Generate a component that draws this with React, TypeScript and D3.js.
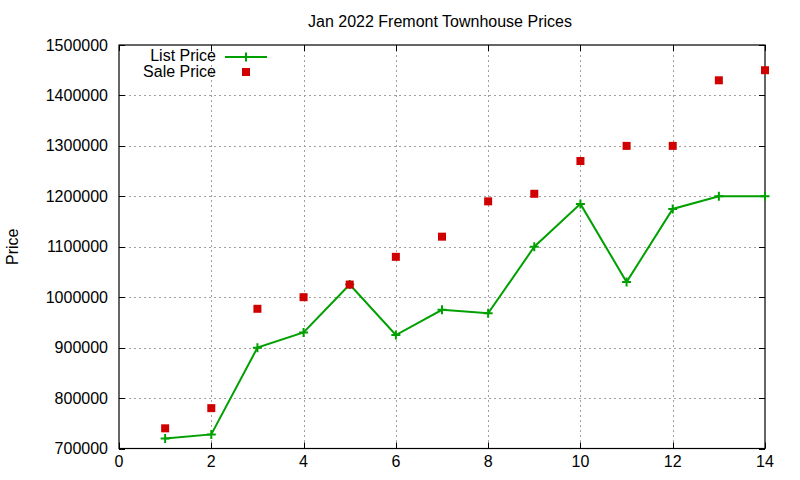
import * as d3 from 'd3'
import { useEffect, useRef } from 'react'

// readings from the reference chart
const days = [1, 2, 3, 4, 5, 6, 7, 8, 9, 10, 11, 12, 13, 14]
const listPrice = [720000, 728000, 900000, 930000, 1025000, 925000, 975000, 968000, 1100000, 1185000, 1030000, 1175000, 1200000, 1200000]
const salePrice = [740000, 780000, 977000, 1000000, 1025000, 1080000, 1120000, 1190000, 1205000, 1270000, 1300000, 1300000, 1430000, 1450000]
const xTicks = [0, 2, 4, 6, 8, 10, 12, 14]
const yTicks = [700000, 800000, 900000, 1000000, 1100000, 1200000, 1300000, 1400000, 1500000]

const W = 800
const H = 480
const FONT = '"Liberation Sans", Arial, sans-serif'

export default function App() {
  const svgRef = useRef(null)

  useEffect(() => {
    document.body.style.margin = '0'
    const svg = d3.select(svgRef.current)
    svg.selectAll('*').remove()

    const left = 119, right = 765, top = 45, bottom = 448.5

    const x = d3.scaleLinear().domain([0, 14]).range([left, right])
    const y = d3.scaleLinear().domain([700000, 1500000]).range([bottom, top])

    svg.append('rect').attr('width', W).attr('height', H).attr('fill', 'white')

    // grid
    const grid = svg.append('g')
      .attr('stroke', '#a0a0a0')
      .attr('stroke-width', 1)
      .attr('stroke-dasharray', '2,3')
    grid.selectAll('.gx')
      .data(xTicks.slice(1, -1))
      .enter()
      .append('line')
      .attr('x1', d => Math.round(x(d)) + 0.5)
      .attr('x2', d => Math.round(x(d)) + 0.5)
      .attr('y1', top)
      .attr('y2', bottom)
    grid.selectAll('.gy')
      .data(yTicks.slice(1, -1))
      .enter()
      .append('line')
      .attr('y1', d => Math.round(y(d)) + 0.5)
      .attr('y2', d => Math.round(y(d)) + 0.5)
      .attr('x1', left)
      .attr('x2', right)

    // tick marks (mirrored, inward)
    const ticks = svg.append('g').attr('stroke', 'black').attr('stroke-width', 1)
    xTicks.forEach(t => {
      const px = Math.round(x(t)) + 0.5
      ticks.append('line').attr('x1', px).attr('x2', px).attr('y1', bottom).attr('y2', bottom - 6)
      ticks.append('line').attr('x1', px).attr('x2', px).attr('y1', top).attr('y2', top + 6)
    })
    yTicks.forEach(t => {
      const py = Math.round(y(t)) + 0.5
      ticks.append('line').attr('x1', left).attr('x2', left + 6).attr('y1', py).attr('y2', py)
      ticks.append('line').attr('x1', right).attr('x2', right - 6).attr('y1', py).attr('y2', py)
    })

    // frame
    svg.append('rect')
      .attr('x', left)
      .attr('y', top)
      .attr('width', right - left)
      .attr('height', bottom - top)
      .attr('fill', 'none')
      .attr('stroke', 'black')
      .attr('stroke-width', 1.2)

    // tick labels
    svg.append('g')
      .selectAll('text')
      .data(xTicks)
      .enter()
      .append('text')
      .attr('x', d => x(d))
      .attr('y', 467)
      .attr('text-anchor', 'middle')
      .style('font-family', FONT)
      .style('font-size', '16px')
      .text(d => d)

    svg.append('g')
      .selectAll('text')
      .data(yTicks)
      .enter()
      .append('text')
      .attr('x', 108)
      .attr('y', d => y(d) + 5.5)
      .attr('text-anchor', 'end')
      .style('font-family', FONT)
      .style('font-size', '16px')
      .text(d => d)

    // title and axis label
    svg.append('text')
      .attr('x', 440)
      .attr('y', 27)
      .attr('text-anchor', 'middle')
      .style('font-family', FONT)
      .style('font-size', '16px')
      .text('Jan 2022 Fremont Townhouse Prices')

    svg.append('text')
      .attr('transform', `translate(18, ${(top + bottom) / 2}) rotate(-90)`)
      .attr('text-anchor', 'middle')
      .style('font-family', FONT)
      .style('font-size', '16px')
      .text('Price')

    const green = '#00a000'
    const red = '#d00000'

    // list price line
    const line = d3.line<number>()
      .x((_, i) => x(days[i]))
      .y(d => y(d))
    svg.append('path')
      .datum(listPrice)
      .attr('d', line)
      .attr('fill', 'none')
      .attr('stroke', green)
      .attr('stroke-width', 2)

    const plus = (g: any, cx: number, cy: number) => {
      g.append('path')
        .attr('d', `M${cx - 4.5},${cy}H${cx + 4.5}M${cx},${cy - 4.5}V${cy + 4.5}`)
        .attr('stroke', green)
        .attr('stroke-width', 2)
    }
    const marks = svg.append('g')
    listPrice.forEach((v, i) => plus(marks, x(days[i]), y(v)))

    // sale price squares
    svg.append('g')
      .selectAll('rect')
      .data(salePrice)
      .enter()
      .append('rect')
      .attr('x', (_, i) => x(days[i]) - 4)
      .attr('y', d => y(d) - 4)
      .attr('width', 8)
      .attr('height', 8)
      .attr('fill', red)

    // legend
    const lg = svg.append('g')
    lg.append('text')
      .attr('x', 216)
      .attr('y', 61)
      .attr('text-anchor', 'end')
      .style('font-family', FONT)
      .style('font-size', '16px')
      .text('List Price')
    lg.append('line')
      .attr('x1', 225).attr('x2', 267)
      .attr('y1', 57).attr('y2', 57)
      .attr('stroke', green)
      .attr('stroke-width', 2)
    plus(lg, 246, 57)
    lg.append('text')
      .attr('x', 216)
      .attr('y', 76.5)
      .attr('text-anchor', 'end')
      .style('font-family', FONT)
      .style('font-size', '16px')
      .text('Sale Price')
    lg.append('rect')
      .attr('x', 242).attr('y', 68)
      .attr('width', 8).attr('height', 8)
      .attr('fill', red)
  }, [svgRef])

  return <svg ref={svgRef} width={W} height={H} style={{ display: 'block' }}></svg>
}
